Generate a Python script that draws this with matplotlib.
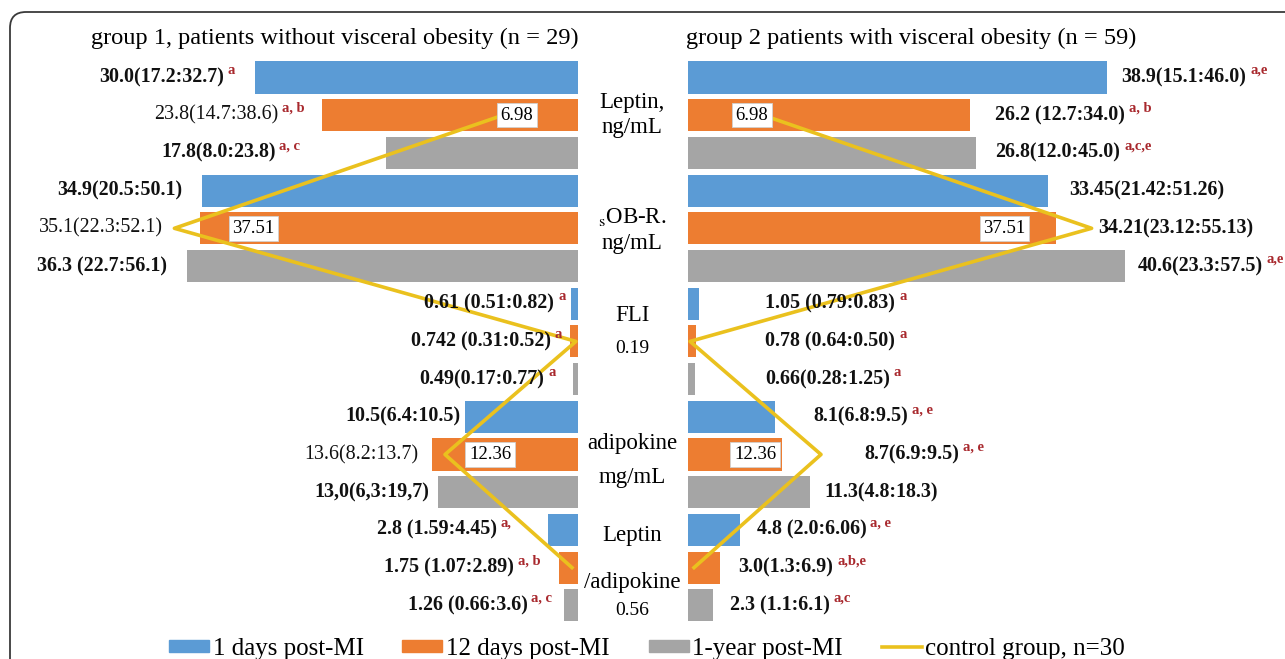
import numpy as np
import matplotlib.pyplot as plt
from matplotlib.patches import Patch, FancyBboxPatch
from matplotlib.lines import Line2D
from matplotlib.transforms import offset_copy, blended_transform_factory

plt.rcParams['font.family'] = ['Liberation Serif', 'DejaVu Serif']
plt.rcParams['mathtext.fontset'] = 'stix'

periods = ['1 days post-MI', '12 days post-MI', '1-year post-MI']
control_name = 'control group, n=30'

# category names shown in the middle column
categories = [['Leptin,', 'ng/mL'],
              [r'$_{\mathrm{s}}$OB-R.', 'ng/mL'],
              ['FLI'],
              ['adipokine', 'mg/mL'],
              ['Leptin', '/adipokine']]

# median (IQR) per category, rows: 1 day, 12 days, 1 year
group1_text = ['30.0(17.2:32.7)', '23.8(14.7:38.6)', '17.8(8.0:23.8)',
               '34.9(20.5:50.1)', '35.1(22.3:52.1)', '36.3 (22.7:56.1)',
               '0.61 (0.51:0.82)', '0.742 (0.31:0.52)', '0.49(0.17:0.77)',
               '10.5(6.4:10.5)', '13.6(8.2:13.7)', '13,0(6,3:19,7)',
               '2.8 (1.59:4.45)', '1.75 (1.07:2.89)', '1.26 (0.66:3.6)']
group1_marks = ['a', 'a, b', 'a, c', '', '', '', 'a', 'a', 'a',
                '', '', '', 'a,', 'a, b', 'a, c']

group2_text = ['38.9(15.1:46.0)', '26.2 (12.7:34.0)', '26.8(12.0:45.0)',
               '33.45(21.42:51.26)', '34.21(23.12:55.13)', '40.6(23.3:57.5)',
               '1.05 (0.79:0.83)', '0.78 (0.64:0.50)', '0.66(0.28:1.25)',
               '8.1(6.8:9.5)', '8.7(6.9:9.5)', '11.3(4.8:18.3)',
               '4.8 (2.0:6.06)', '3.0(1.3:6.9)', '2.3 (1.1:6.1)']
group2_marks = ['a,e', 'a, b', 'a,c,e', '', '', 'a,e', 'a', 'a', 'a',
                'a, e', 'a, e', '', 'a, e', 'a,b,e', 'a,c']

control = [6.98, 37.51, 0.19, 12.36, 0.56]


def medians(texts):
    return [float(t.split('(')[0].strip().replace(',', '.')) for t in texts]


group1 = medians(group1_text)
group2 = medians(group2_text)

# layout (pixels)
W, H = 1285, 659
PX = 10.76                     # pixels per unit on the bar axis
gap1 = [20, 17, 86, 20, 37, 20, 6, 8, 17, 5, 13, 9, 36, 19, 12]
gap2 = [15, 25, 19, 21, 42, 13, 66, 69, 70, 38, 83, 15, 17, 18, 17]
regular1 = {1, 4, 10}
ctrl_dx1 = [14, 79, None, 45, None]
ctrl_dx2 = [-11, -87, None, -66, None]
name_dy = [[-13, 12], [-11, 15], [-26], [-11, 23], [-32, 15]]
value_dy = [None, None, 7, None, 43]

blue, orange, gray, gold = '#5b9bd5', '#ed7d31', '#a5a5a5', '#eac11e'
mark_red = '#a8282d'
colors = [blue, orange, gray] * 5

fig = plt.figure(figsize=(W / 100, H / 100), dpi=100)


def fx(p):
    return p / W


top, bottom = 55, 628
axL = fig.add_axes([fx(20), 1 - bottom / H, fx(578 - 20), (bottom - top) / H])
axR = fig.add_axes([fx(688), 1 - bottom / H, fx(1280 - 688), (bottom - top) / H])
axL.set_xlim((578 - 20) / PX, 0)
axR.set_xlim(0, (1280 - 688) / PX)
pitch = 37.7
for ax in (axL, axR):
    ax.set_ylim((bottom - 77.5) / pitch, -(77.5 - top) / pitch)
    ax.axis('off')

y = np.arange(15)
ctrl_y = y[1::3]
axL.barh(y, group1, height=0.85, color=colors, zorder=2)
axR.barh(y, group2, height=0.85, color=colors, zorder=2)
axL.plot(control, ctrl_y, color=gold, lw=2.6, zorder=3)
axR.plot(control, ctrl_y, color=gold, lw=2.6, zorder=3)

fig.canvas.draw()
renderer = fig.canvas.get_renderer()


def shifted(ax, dx, dy=0):
    return offset_copy(ax.transData, fig=fig, x=dx, y=dy, units='dots')


# value labels, left panel (text ends before the bar)
for i in range(15):
    w = 0
    if group1_marks[i]:
        s = axL.text(group1[i], i, group1_marks[i], transform=shifted(axL, -gap1[i], 7),
                     ha='right', va='center', fontsize=10.5, weight='bold', color=mark_red)
        w = s.get_window_extent(renderer).width + 4
    axL.text(group1[i], i, group1_text[i], transform=shifted(axL, -gap1[i] - w),
             ha='right', va='center', fontsize=14.4, color='#111111',
             weight='normal' if i in regular1 else 'bold')

# value labels, right panel
for i in range(15):
    t = axR.text(group2[i], i, group2_text[i], transform=shifted(axR, gap2[i]),
                 ha='left', va='center', fontsize=14.4, weight='bold', color='#111111')
    if group2_marks[i]:
        w = t.get_window_extent(renderer).width + 4
        axR.text(group2[i], i, group2_marks[i], transform=shifted(axR, gap2[i] + w, 7),
                 ha='left', va='center', fontsize=10.5, weight='bold', color=mark_red)

# control values in boxes
box = dict(boxstyle='square,pad=0.2', fc='white', ec='#d0d0d0', lw=0.6)
for k, v in enumerate(control):
    if ctrl_dx1[k] is None:
        continue
    axL.text(v, ctrl_y[k], f'{v:.2f}', transform=shifted(axL, ctrl_dx1[k]),
             ha='center', va='center', fontsize=13.5, bbox=box, zorder=5)
    axR.text(v, ctrl_y[k], f'{v:.2f}', transform=shifted(axR, ctrl_dx2[k]),
             ha='center', va='center', fontsize=13.5, bbox=box, zorder=5)

# middle column: category names and remaining control values
mid = blended_transform_factory(fig.transFigure, axL.transData)
for k, lines in enumerate(categories):
    for line, dy in zip(lines, name_dy[k]):
        fig.text(fx(632), ctrl_y[k], line, transform=offset_copy(mid, fig=fig, y=-dy, units='dots'),
                 ha='center', va='center', fontsize=16.5)
    if value_dy[k] is not None:
        fig.text(fx(632), ctrl_y[k], f'{control[k]:.2f}',
                 transform=offset_copy(mid, fig=fig, y=-value_dy[k], units='dots'),
                 ha='center', va='center', fontsize=14)

fig.text(fx(91), 1 - 38 / H, 'group 1, patients without visceral obesity (n = 29)',
         fontsize=17.6, va='center')
fig.text(fx(686), 1 - 38 / H, 'group 2 patients with visceral obesity (n = 59)',
         fontsize=17.6, va='center')

handles = [Patch(color=c) for c in (blue, orange, gray)]
handles.append(Line2D([], [], color=gold, lw=2.6))
fig.legend(handles, periods + [control_name], loc='center', ncol=4,
           bbox_to_anchor=(fx(647), 1 - 649 / H), frameon=False, fontsize=18,
           handlelength=1.6, handleheight=0.4, handletextpad=0.15,
           columnspacing=1.55, borderpad=0)

fig.add_artist(FancyBboxPatch((0.10, -1.0), 14.0, 7.47,
                              boxstyle='round,pad=0,rounding_size=0.16',
                              transform=fig.dpi_scale_trans, fill=False,
                              ec='#3a3a3a', lw=1.3))

fig.savefig('out.png', dpi=100)
